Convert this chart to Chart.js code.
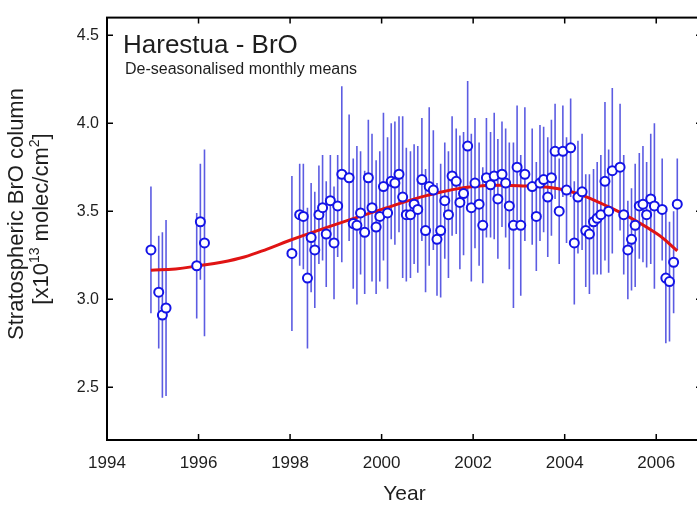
<!DOCTYPE html>
<html>
<head>
<meta charset="utf-8">
<script src="https://cdn.jsdelivr.net/npm/chart.js@4/dist/chart.umd.min.js"></script>
<style>
  html, body { margin: 0; padding: 0; background: #fff; overflow: hidden; }
  #wrap { width: 710px; height: 507px; }
</style>
</head>
<body>
<div id="wrap"><canvas id="chart" width="710" height="507"></canvas></div>
<script>
// monthly means (decimal year at mid-month), BrO column and error bar half-length
const obsYear = [
  1994.96, 1995.13, 1995.21, 1995.29, 1995.96, 1996.04, 1996.13,
  1998.04, 1998.21, 1998.29, 1998.38, 1998.46, 1998.54, 1998.63, 1998.71, 1998.79, 1998.88, 1998.96,
  1999.04, 1999.13, 1999.29, 1999.38, 1999.46, 1999.54, 1999.63, 1999.71, 1999.79, 1999.88, 1999.96,
  2000.04, 2000.13, 2000.21, 2000.29, 2000.38, 2000.46, 2000.54, 2000.63, 2000.71, 2000.79, 2000.88, 2000.96,
  2001.04, 2001.13, 2001.21, 2001.29, 2001.38, 2001.46, 2001.54, 2001.63, 2001.71, 2001.79, 2001.88, 2001.96,
  2002.04, 2002.13, 2002.21, 2002.29, 2002.38, 2002.46, 2002.54, 2002.63, 2002.71, 2002.79, 2002.88, 2002.96,
  2003.04, 2003.13, 2003.29, 2003.38, 2003.46, 2003.54, 2003.63, 2003.71, 2003.79, 2003.88, 2003.96,
  2004.04, 2004.13, 2004.21, 2004.29, 2004.38, 2004.46, 2004.54, 2004.63, 2004.71, 2004.79, 2004.88, 2004.96,
  2005.04, 2005.21, 2005.29, 2005.38, 2005.46, 2005.54, 2005.63, 2005.71, 2005.79, 2005.88, 2005.96,
  2006.13, 2006.21, 2006.29, 2006.38, 2006.46
];
const obsBrO = [
  3.28, 3.04, 2.91, 2.95, 3.19, 3.44, 3.32,
  3.26, 3.48, 3.47, 3.12, 3.35, 3.28, 3.48, 3.52, 3.37, 3.56, 3.32,
  3.53, 3.71, 3.69, 3.43, 3.42, 3.49, 3.38, 3.69, 3.52, 3.41, 3.47,
  3.64, 3.49, 3.67, 3.66, 3.71, 3.58, 3.48, 3.48, 3.54, 3.51, 3.68, 3.39,
  3.64, 3.62, 3.34, 3.39, 3.56, 3.48, 3.70, 3.67, 3.55, 3.60, 3.87, 3.52,
  3.66, 3.54, 3.42, 3.69, 3.65, 3.70, 3.57, 3.71, 3.66, 3.53, 3.42, 3.75,
  3.42, 3.71, 3.64, 3.47, 3.66, 3.68, 3.58, 3.69, 3.84, 3.50, 3.84,
  3.62, 3.86, 3.32, 3.58, 3.61, 3.39, 3.37, 3.44, 3.46, 3.48, 3.67, 3.50,
  3.73, 3.75, 3.48, 3.28, 3.34, 3.42, 3.53, 3.54, 3.48, 3.57, 3.53,
  3.51, 3.12, 3.10, 3.21, 3.54
];
const obsErr = [
  0.36, 0.32, 0.47, 0.50, 0.30, 0.33, 0.53,
  0.44, 0.29, 0.30, 0.40, 0.31, 0.33, 0.28, 0.30, 0.30, 0.26, 0.32,
  0.29, 0.50, 0.36, 0.37, 0.45, 0.35, 0.35, 0.33, 0.42, 0.38, 0.37,
  0.42, 0.43, 0.33, 0.35, 0.33, 0.46, 0.38, 0.36, 0.34, 0.36, 0.35, 0.35,
  0.45, 0.34, 0.32, 0.38, 0.33, 0.36, 0.34, 0.30, 0.38, 0.35, 0.37, 0.42,
  0.37, 0.35, 0.33, 0.34, 0.30, 0.36, 0.34, 0.30, 0.31, 0.36, 0.47, 0.35,
  0.40, 0.38, 0.33, 0.31, 0.33, 0.30, 0.34, 0.33, 0.27, 0.30, 0.26,
  0.30, 0.28, 0.35, 0.32, 0.33, 0.32, 0.34, 0.30, 0.32, 0.34, 0.45, 0.35,
  0.47, 0.36, 0.34, 0.28, 0.29, 0.35, 0.30, 0.33, 0.30, 0.37, 0.47,
  0.29, 0.37, 0.34, 0.29, 0.26
];

// fitted trend curve, read at a few years
const fitYear = [1994.96, 1995.5, 1996, 1996.5, 1997, 1997.5, 1998, 1999, 2000, 2001, 2002, 2003, 2004, 2005, 2006, 2006.46];
const fitBrO = [3.165, 3.172, 3.19, 3.21, 3.24, 3.285, 3.335, 3.425, 3.51, 3.59, 3.64, 3.645, 3.62, 3.52, 3.375, 3.275];

const xTicks = [1994, 1996, 1998, 2000, 2002, 2004, 2006];
const yTicks = [2.5, 3.0, 3.5, 4.0, 4.5];

const FONT = "'Liberation Sans', Arial, sans-serif";
const INK = "#1e1e1e";

// frame, inward ticks, error bars, titles
const decor = {
  id: "decor",
  beforeDatasetsDraw(chart) {
    const { ctx, chartArea: a, scales } = chart;
    ctx.save();
    ctx.beginPath();
    ctx.rect(a.left, a.top, a.right - a.left, a.bottom - a.top);
    ctx.clip();
    ctx.strokeStyle = "#5c5ce2";
    ctx.lineWidth = 1.6;
    obsYear.forEach((yr, i) => {
      const px = scales.x.getPixelForValue(yr);
      ctx.beginPath();
      ctx.moveTo(px, scales.y.getPixelForValue(obsBrO[i] - obsErr[i]));
      ctx.lineTo(px, scales.y.getPixelForValue(obsBrO[i] + obsErr[i]));
      ctx.stroke();
    });
    ctx.restore();
  },
  afterDraw(chart) {
    const { ctx, chartArea: a, scales } = chart;
    ctx.save();
    ctx.strokeStyle = "#000";
    ctx.lineWidth = 2;
    ctx.strokeRect(a.left, a.top, a.right - a.left, a.bottom - a.top);
    ctx.lineWidth = 1.5;
    const t = 6;
    ctx.beginPath();
    xTicks.forEach((v) => {
      const px = scales.x.getPixelForValue(v);
      ctx.moveTo(px, a.bottom); ctx.lineTo(px, a.bottom - t);
      ctx.moveTo(px, a.top); ctx.lineTo(px, a.top + t);
    });
    yTicks.forEach((v) => {
      const py = scales.y.getPixelForValue(v);
      ctx.moveTo(a.left, py); ctx.lineTo(a.left + t, py);
      ctx.moveTo(a.right, py); ctx.lineTo(a.right - t, py);
    });
    ctx.stroke();

    // titles inside plot
    ctx.fillStyle = INK;
    ctx.textBaseline = "alphabetic";
    ctx.textAlign = "left";
    ctx.font = "26px " + FONT;
    ctx.fillText("Harestua - BrO", 123, 53);
    ctx.font = "16px " + FONT;
    ctx.fillText("De-seasonalised monthly means", 125, 74);

    // y axis title, two rotated lines with superscripts
    ctx.rotate(-Math.PI / 2);
    ctx.font = "22px " + FONT;
    ctx.textAlign = "center";
    ctx.fillText("Stratospheric BrO column", -214, 23);
    const parts = [
      ["[x10", false], ["13", true], [" molec/cm", false], ["2", true], ["]", false]
    ];
    const big = "22px " + FONT, small = "14px " + FONT;
    let w = 0;
    parts.forEach(([s, sup]) => { ctx.font = sup ? small : big; w += ctx.measureText(s).width; });
    let x = -219 - w / 2;
    ctx.textAlign = "left";
    parts.forEach(([s, sup]) => {
      ctx.font = sup ? small : big;
      ctx.fillText(s, x, sup ? 39 : 48);
      x += ctx.measureText(s).width;
    });
    ctx.restore();
  }
};

new Chart(document.getElementById("chart"), {
  type: "line",
  data: {
    datasets: [
      {
        type: "scatter",
        data: obsYear.map((yr, i) => ({ x: yr, y: obsBrO[i] })),
        pointRadius: 4.5,
        pointBorderWidth: 2,
        pointBackgroundColor: "#fff",
        pointBorderColor: "#1414e6",
        order: 0
      },
      {
        data: fitYear.map((yr, i) => ({ x: yr, y: fitBrO[i] })),
        borderColor: "#e01414",
        borderWidth: 3,
        pointRadius: 0,
        tension: 0.4,
        order: 1
      }
    ]
  },
  options: {
    responsive: false,
    animation: false,
    devicePixelRatio: 1,
    layout: { padding: { top: 14, right: 8, left: 0, bottom: 0 } },
    plugins: { legend: { display: false }, tooltip: { enabled: false } },
    scales: {
      x: {
        type: "linear",
        min: 1994,
        max: 2007,
        afterBuildTicks: (s) => { s.ticks = xTicks.map((v) => ({ value: v })); },
        afterFit: (s) => { s.height = 67; },
        grid: { display: false, drawTicks: false },
        border: { display: false },
        ticks: {
          padding: 13,
          color: INK,
          font: { family: FONT, size: 17 },
          callback: (v) => String(v)
        },
        title: {
          display: true,
          text: "Year",
          color: INK,
          font: { family: FONT, size: 21 },
          padding: { top: 9, bottom: 0 }
        }
      },
      y: {
        min: 2.2,
        max: 4.6,
        afterBuildTicks: (s) => { s.ticks = yTicks.map((v) => ({ value: v })); },
        afterFit: (s) => { s.width = 107; },
        grid: { display: false, drawTicks: false },
        border: { display: false },
        ticks: {
          padding: 8,
          color: INK,
          font: { family: FONT, size: 16 },
          callback: (v) => v.toFixed(1)
        }
      }
    }
  },
  plugins: [decor]
});
</script>
</body>
</html>
